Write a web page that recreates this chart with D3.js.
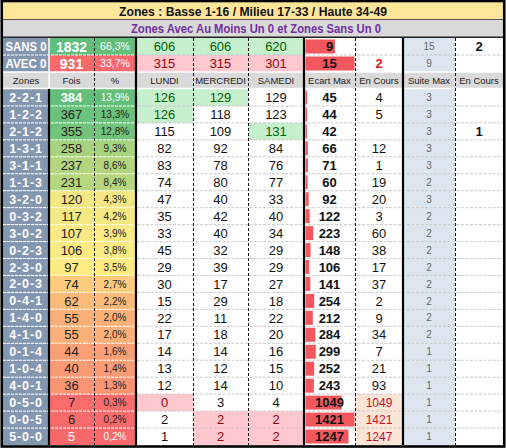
<!DOCTYPE html>
<html><head><meta charset="utf-8">
<script src="https://cdn.jsdelivr.net/npm/d3@7/dist/d3.min.js"></script>
<style>body{margin:0;background:#fff}svg{display:block}text{font-family:"Liberation Sans",Arial,sans-serif}</style>
</head><body><svg id="c" width="506" height="448"></svg>
<script>
// ---------- DATA ----------
const title = "Zones : Basse 1-16 / Milieu 17-33 / Haute 34-49";
const subtitle = "Zones Avec Au Moins Un 0 et Zones Sans  Un 0";
const headers = ["Zones","Fois","%","LUNDI","MERCREDI","SAMEDI","Ecart Max","En Cours","Suite Max","En Cours"];
const summaryLabels = ["SANS 0","AVEC 0"];
const summaryFois = [1832, 931];
const summaryPct = ["66,3%","33,7%"];
const summaryLundi = [606, 315];
const summaryMercredi = [606, 315];
const summarySamedi = [620, 301];
const summaryEcart = [9, 15];
const summaryEnCours = [null, 2];
const summarySuite = [15, 9];
const summaryEnCours2 = [2, null];

const zones = ["2-2-1","1-2-2","2-1-2","1-3-1","3-1-1","1-1-3","3-2-0","0-3-2","3-0-2","0-2-3","2-3-0","2-0-3","0-4-1","1-4-0","4-1-0","0-1-4","1-0-4","4-0-1","0-5-0","0-0-5","5-0-0"];
const fois = [384,367,355,258,237,231,120,117,107,106,97,74,62,55,55,44,40,36,7,6,5];
const pct = ["13,9%","13,3%","12,8%","9,3%","8,6%","8,4%","4,3%","4,2%","3,9%","3,8%","3,5%","2,7%","2,2%","2,0%","2,0%","1,6%","1,4%","1,3%","0,3%","0,2%","0,2%"];
const lundi = [126,126,115,82,83,74,47,35,33,45,29,30,15,22,17,14,13,12,0,2,1];
const mercredi = [129,118,109,92,78,80,40,42,40,32,39,17,29,11,18,14,12,14,3,2,2];
const samedi = [129,123,131,84,76,77,33,40,34,29,29,27,18,22,20,16,15,10,4,2,2];
const ecartMax = [45,44,42,66,71,60,92,122,223,148,106,141,254,212,284,299,252,243,1049,1421,1247];
const enCours = [4,5,null,12,1,19,20,3,60,38,17,37,2,9,34,7,21,93,1049,1421,1247];
const suiteMax = [3,3,3,3,3,2,3,2,2,2,2,2,2,2,2,1,1,1,1,1,1];
const enCours2 = [null,null,1,null,null,null,null,null,null,null,null,null,null,null,null,null,null,null,null,null,null];

// ---------- LAYOUT ----------
const svg = d3.select("#c");
const edges = [3,49,94,136,193,248,304,355,403,455,503];
const colX = i => edges[i], colW = i => edges[i+1]-edges[i], colC = i => (edges[i]+edges[i+1])/2;
const rowY = d3.scaleBand().domain(d3.range(zones.length)).range([89, 445]);
const sumY = d3.scaleBand().domain([0,1]).range([38, 72]);
const hdrY0 = 72, hdrY1 = 88;

const GREEN_BG="#c6efce", GREEN_TX="#006100", RED_BG="#ffc7ce", RED_TX="#9c0006";
const BLUEGREY="#8497b0", SUITE_BG="#dde6f0", BAR="#f2575d";

function cell(x,y,w,h,fill){ if(fill) svg.append("rect").attr("x",x).attr("y",y).attr("width",w).attr("height",h).attr("fill",fill); }
function txt(x,y,s,o){ o=o||{}; if(s===null||s===undefined) return;
  const t=svg.append("text").attr("x",x).attr("y",y).attr("dy","0.36em").attr("text-anchor","middle")
   .attr("font-size",o.size||13).attr("font-weight",o.bold?"bold":"normal").attr("fill",o.fill||"#111").text(s);
  if(o.ls) t.attr("letter-spacing",o.ls);
  if(o.len) t.attr("textLength",o.len).attr("lengthAdjust","spacingAndGlyphs");
  return t;
}

// title + subtitle
cell(3,2,500,17.5,"#ffe699");
txt(253,11,title,{bold:true,size:12.5,len:268});
cell(3,20,500,17,"#d9d9d9");
txt(256,28.5,subtitle,{bold:true,size:12.5,fill:"#7030a0",len:250});

// ---------- SUMMARY ROWS ----------
const sumColor = d3.scaleOrdinal().domain([0,1]).range(["#63be7b","#f8696b"]);
const barSum = d3.scaleLinear().domain([0, d3.max(summaryEcart)]).range([0, colW(6)-2]);
[0,1].forEach(r=>{
  const y=sumY(r), h=sumY.bandwidth(), cy=y+h/2;
  cell(colX(0),y,colW(0),h,BLUEGREY);
  txt(colC(0),cy,summaryLabels[r],{bold:true,size:12,fill:"#fff",len:41});
  cell(colX(1),y,colW(1),h,sumColor(r));
  txt(colC(1),cy,summaryFois[r],{bold:true,size:14,fill:"#fff"});
  cell(colX(2),y,colW(2),h,sumColor(r));
  txt(colC(2),cy,summaryPct[r],{size:10.5,fill:"#fff"});
  [summaryLundi,summaryMercredi,summarySamedi].forEach((arr,k)=>{
    const isMax = arr[r]===d3.max(arr);
    cell(colX(3+k),y,colW(3+k),h,isMax?GREEN_BG:RED_BG);
    txt(colC(3+k),cy,arr[r],{fill:isMax?GREEN_TX:RED_TX});
  });
  svg.append("rect").attr("x",colX(6)+1.5).attr("y",y+1.5).attr("width",barSum(summaryEcart[r])).attr("height",h-3).attr("fill",BAR);
  txt(colC(6),cy,summaryEcart[r],{bold:true});
  txt(colC(7),cy,summaryEnCours[r],{bold:true,fill:"#e02020"});
  cell(colX(8),y,colW(8),h,SUITE_BG);
  txt(colC(8),cy,summarySuite[r],{size:10,fill:"#666"});
  txt(colC(9),cy,summaryEnCours2[r],{bold:true});
});

// ---------- HEADER ROW ----------
cell(3,hdrY0,500,hdrY1-hdrY0,"#d9d9d9");
headers.forEach((h,i)=>txt(colC(i),(hdrY0+hdrY1)/2+0.5,h,{size:9.5,fill:"#222"}));

// ---------- DATA ROWS ----------
const med = d3.median(fois);
const heat = d3.scaleLinear().domain([d3.min(fois),med,d3.max(fois)]).range(["#f8696b","#ffeb84","#63be7b"]);
const bar = d3.scaleLinear().domain([0,d3.max(ecartMax)]).range([0,colW(6)-2]);
const maxF=d3.max(fois), minF=d3.min(fois);
zones.forEach((z,r)=>{
  const y=rowY(r), h=rowY.bandwidth(), cy=y+h/2;
  cell(colX(0),y,colW(0),h,BLUEGREY);
  txt(colC(0),cy,z,{bold:true,size:12.5,fill:"#fff",ls:0.9});
  const bg=heat(fois[r]);
  const ext = fois[r]===maxF || fois[r]===minF;
  cell(colX(1),y,colW(1),h,bg);
  txt(colC(1),cy,fois[r],{bold:fois[r]===maxF,fill:ext?"#fff":"#222",size:13});
  cell(colX(2),y,colW(2),h,bg);
  txt(colC(2),cy,pct[r],{size:10,fill:ext?"#fff":"#222"});
  [lundi,mercredi,samedi].forEach((arr,k)=>{
    const v=arr[r], mx=d3.max(arr), mn=d3.min(arr);
    let f=null, tc="#111";
    if(v===mx){f=GREEN_BG;tc=GREEN_TX;} else if(v===mn){f=RED_BG;tc=RED_TX;}
    cell(colX(3+k),y,colW(3+k),h,f);
    txt(colC(3+k),cy,v,{fill:tc});
  });
  svg.append("rect").attr("x",colX(6)+1.5).attr("y",y+1.5).attr("width",bar(ecartMax[r])).attr("height",h-3).attr("fill",BAR);
  txt(colC(6),cy,ecartMax[r],{bold:true});
  const same = enCours[r]!==null && enCours[r]===ecartMax[r];
  cell(colX(7),y,colW(7),h,same?"#fce4d6":null);
  txt(colC(7),cy,enCours[r],{fill:same?"#c8102e":"#111",size:same?12:13});
  cell(colX(8),y,colW(8),h,SUITE_BG);
  txt(colC(8),cy,suiteMax[r],{size:10,fill:"#666"});
  txt(colC(9),cy,enCours2[r],{bold:true});
});

// ---------- GRID LINES ----------
const hLines = rowY.domain().slice(1).map(r=>rowY(r)).concat([sumY(1)]);
hLines.forEach(y=>{
  svg.append("line").attr("x1",3).attr("x2",136).attr("y1",y).attr("y2",y).attr("stroke","#fff").attr("stroke-width",1).attr("stroke-dasharray","3,1");
  svg.append("line").attr("x1",137).attr("x2",503).attr("y1",y).attr("y2",y).attr("stroke","#c4c4c4").attr("stroke-width",0.9).attr("stroke-dasharray","3,1.5");
});
[72,88.5].forEach(y=>svg.append("line").attr("x1",3).attr("x2",503).attr("y1",y).attr("y2",y).attr("stroke","#fff").attr("stroke-width",1.5));
// dashed verticals
[2,4,5,7,9].forEach(i=>{
  svg.append("line").attr("x1",colX(i)+0.5).attr("x2",colX(i)+0.5).attr("y1",38).attr("y2",445)
    .attr("stroke","#111").attr("stroke-width",1).attr("stroke-dasharray","3,2");
});
// white vertical separator zones/fois in summary+header
svg.append("line").attr("x1",49).attr("x2",49).attr("y1",38).attr("y2",88).attr("stroke","#fff").attr("stroke-width",1.5);
// thick black verticals
svg.append("line").attr("x1",49).attr("x2",49).attr("y1",89).attr("y2",445).attr("stroke","#000").attr("stroke-width",2.2);
[3,6,8].forEach(i=>svg.append("line").attr("x1",colX(i)).attr("x2",colX(i)).attr("y1",38).attr("y2",445).attr("stroke","#000").attr("stroke-width",2.2));
// title separators
svg.append("line").attr("x1",3).attr("x2",503).attr("y1",19.5).attr("y2",19.5).attr("stroke","#555").attr("stroke-width",1);
svg.append("line").attr("x1",3).attr("x2",503).attr("y1",37.3).attr("y2",37.3).attr("stroke","#222").attr("stroke-width",1.4);
// outer border
svg.append("rect").attr("x",1.75).attr("y",1).attr("width",502.5).attr("height",445.5).attr("fill","none").attr("stroke","#000").attr("stroke-width",2.6);
</script></body></html>
